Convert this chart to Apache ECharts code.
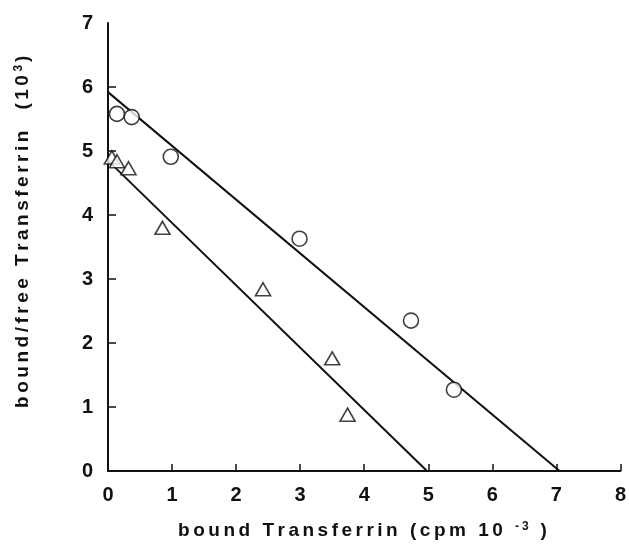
<!DOCTYPE html>
<html>
<head>
<meta charset="utf-8">
<script src="https://cdn.jsdelivr.net/npm/echarts@6/dist/echarts.min.js"></script>
<style>
  html, body { margin: 0; padding: 0; background: #fff; }
  #chart { width: 629px; height: 553px; }
</style>
</head>
<body>
<div id="chart"></div>
<script>
// Scatchard plot of transferrin binding: two binding series with their fitted lines
const xTicks = [0, 1, 2, 3, 4, 5, 6, 7, 8];
const yTicks = [0, 1, 2, 3, 4, 5, 6, 7];

// circles
const circleBound = [0.14, 0.37, 0.98, 2.99, 4.73, 5.40];
const circleRatio = [5.58, 5.53, 4.91, 3.63, 2.35, 1.27];

// triangles
const triangleBound = [0.06, 0.14, 0.32, 0.85, 2.42, 3.50, 3.74];
const triangleRatio = [4.90, 4.84, 4.73, 3.80, 2.84, 1.76, 0.88];

// fitted lines (end points)
const circleFitX = [0, 7.05];
const circleFitY = [5.92, 0];
const triangleFitX = [0, 4.98];
const triangleFitY = [4.85, 0];

// axis titles: [plain part, superscript, closing part]
const xTitle = ['bound Transferrin (cpm 10 ', '-3', ' )'];
const yTitle = ['bound/free Transferrin  (10', '3', ')'];

const pairs = (xs, ys) => xs.map((x, i) => [x, ys[i]]);

const ink = '#111';
const face = 'Liberation Sans, Arial, Helvetica, sans-serif';
const tickFont = { color: ink, fontFamily: face, fontWeight: 'bold', fontSize: 20 };

// spread the title letters out, one rich token per character
const spread = (s, tag) => s.split('').map(ch => '{' + tag + '|' + ch + '}').join('');
const titleText = parts => spread(parts[0], 'c') + spread(parts[1], 's') + spread(parts[2], 'c');
const titleRich = {
  c: { fontFamily: face, fontWeight: 'bold', fontSize: 19, color: ink, padding: [0, 3.5, 0, 0] },
  s: { fontFamily: face, fontWeight: 'bold', fontSize: 12, color: ink, padding: [0, 3, 0, 0], verticalAlign: 'top' }
};

const chart = echarts.init(document.getElementById('chart'), null, { renderer: 'canvas' });
chart.setOption({
  animation: false,
  backgroundColor: '#fff',
  grid: { left: 108, top: 23, width: 514, height: 448, containLabel: false },
  xAxis: {
    type: 'value', min: xTicks[0], max: xTicks[xTicks.length - 1], interval: 1,
    splitLine: { show: false },
    axisLine: { show: true, lineStyle: { color: ink, width: 2 } },
    axisTick: { show: true, inside: true, length: 7, lineStyle: { color: ink, width: 1.5 } },
    axisLabel: Object.assign({ margin: 14 }, tickFont),
    name: titleText(xTitle),
    nameLocation: 'middle', nameGap: 50,
    nameTextStyle: { rich: titleRich }
  },
  yAxis: {
    type: 'value', min: yTicks[0], max: yTicks[yTicks.length - 1], interval: 1,
    splitLine: { show: false },
    axisLine: { show: true, lineStyle: { color: ink, width: 2 } },
    axisTick: { show: true, inside: true, length: 8, lineStyle: { color: ink, width: 1.5 }, customValues: yTicks.slice(0, -1) },
    axisLabel: Object.assign({ margin: 15 }, tickFont),
    name: titleText(yTitle),
    nameLocation: 'middle', nameGap: 76,
    nameTextStyle: { rich: titleRich, padding: [0, 0, 0, 34] }
  },
  series: [
    { type: 'line', data: pairs(circleFitX, circleFitY), symbol: 'none', lineStyle: { color: ink, width: 2 }, z: 2 },
    { type: 'line', data: pairs(triangleFitX, triangleFitY), symbol: 'none', lineStyle: { color: ink, width: 2 }, z: 2 },
    {
      type: 'scatter', data: pairs(circleBound, circleRatio), symbol: 'circle', symbolSize: 15,
      itemStyle: { color: '#fff', borderColor: ink, borderWidth: 1.6 }, z: 3
    },
    {
      type: 'scatter', data: pairs(triangleBound, triangleRatio), symbol: 'triangle', symbolSize: [15, 13],
      itemStyle: { color: '#fff', borderColor: ink, borderWidth: 1.6 }, z: 3
    }
  ]
});
</script>
</body>
</html>
